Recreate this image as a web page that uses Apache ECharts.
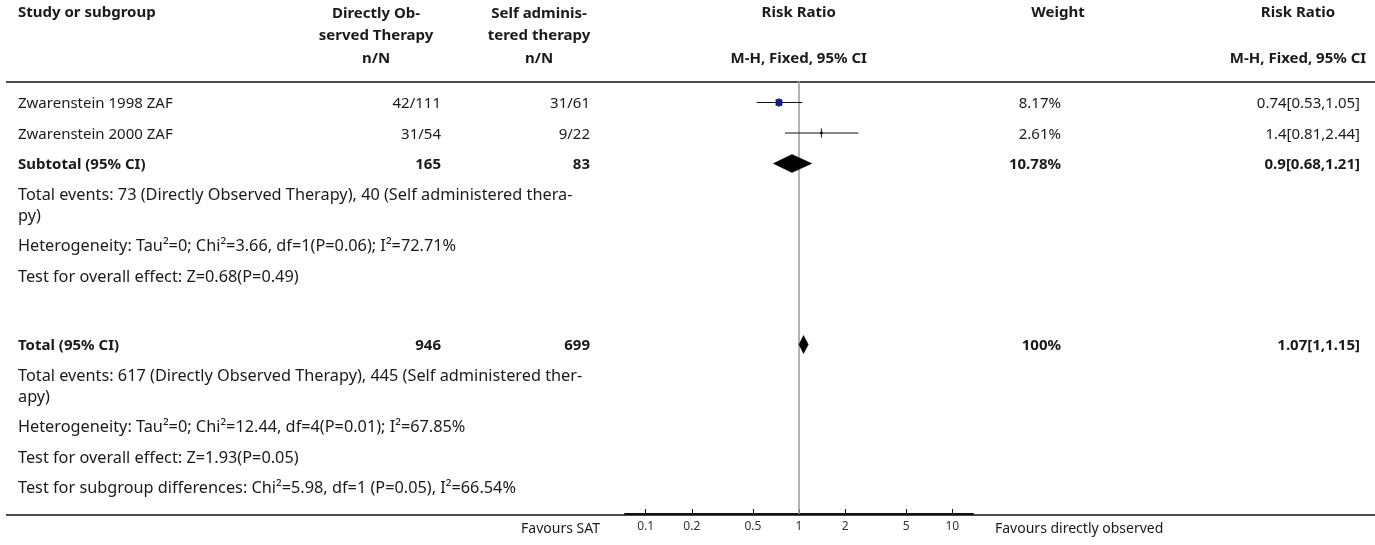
<!DOCTYPE html>
<html><head><meta charset="utf-8">
<script src="https://cdn.jsdelivr.net/npm/echarts@6/dist/echarts.min.js"></script>
<style>html,body{margin:0;padding:0;background:#fff}#c{width:1375px;height:545px}</style>
</head><body><div id="c"></div>
<script>
// ---- data ----
const studyNames = ['Zwarenstein 1998 ZAF', 'Zwarenstein 2000 ZAF'];
const dotEvents = ['42/111', '31/54'];
const satEvents = ['31/61', '9/22'];
const studyRR = [0.74, 1.4];
const studyLo = [0.53, 0.81];
const studyHi = [1.05, 2.44];
const studyWeight = [8.17, 2.61];
const subtotalRow = { label: 'Subtotal (95% CI)', n1: 165, n2: 83, rr: 0.9, lo: 0.68, hi: 1.21, w: 10.78 };
const totalRow = { label: 'Total (95% CI)', n1: 946, n2: 699, rr: 1.07, lo: 1, hi: 1.15, w: 100 };
const subtotalNotes = [
  'Total events: 73 (Directly Observed Therapy), 40 (Self administered thera-\npy)',
  'Heterogeneity: Tau\u00b2=0; Chi\u00b2=3.66, df=1(P=0.06); I\u00b2=72.71%',
  'Test for overall effect: Z=0.68(P=0.49)'
];
const totalNotes = [
  'Total events: 617 (Directly Observed Therapy), 445 (Self administered ther-\napy)',
  'Heterogeneity: Tau\u00b2=0; Chi\u00b2=12.44, df=4(P=0.01); I\u00b2=67.85%',
  'Test for overall effect: Z=1.93(P=0.05)',
  'Test for subgroup differences: Chi\u00b2=5.98, df=1 (P=0.05), I\u00b2=66.54%'
];
const axisTicks = [0.1, 0.2, 0.5, 1, 2, 5, 10];
const headers = {
  study: 'Study or subgroup',
  g1: 'Directly Ob-\nserved Therapy', g2: 'Self adminis-\ntered therapy',
  plot: 'Risk Ratio', weight: 'Weight', rr: 'Risk Ratio',
  sub1: 'n/N', sub2: 'n/N', subPlot: 'M-H, Fixed, 95% CI', subRR: 'M-H, Fixed, 95% CI'
};
const favours = ['Favours SAT', 'Favours directly observed'];

// ---- layout ----
const FONT = '"Noto Sans", sans-serif';
const FS = 15;        // body text
const FS_NOTE = 16.3; // footnote text
const FS_H = 15;      // header text
const COL = { study: 18, g1R: 441, g1C: 376, g2R: 590, g2C: 539, plotC: 798.7, wR: 1061, wC: 1058, rrR: 1360, rrC: 1298 };
const ROW_H = 30.5, LINE_H = 20.5, BLOCK_GAP = 38.5;
const GRID_TOP = 81, GRID_BOTTOM_Y = 514;
const L10 = v => Math.log10(v);
const fmtCI = (r, l, h) => r + '[' + l + ',' + h + ']';

// build rows
const rows = [];
studyNames.forEach((n, i) => rows.push({ kind: 'study', i, texts: [
  { t: n, x: COL.study, a: 'left' }, { t: dotEvents[i], x: COL.g1R, a: 'right' }, { t: satEvents[i], x: COL.g2R, a: 'right' },
  { t: studyWeight[i] + '%', x: COL.wR, a: 'right' }, { t: fmtCI(studyRR[i], studyLo[i], studyHi[i]), x: COL.rrR, a: 'right' }] }));
function pooledRow(p, kind) {
  return { kind, p, bold: true, texts: [
    { t: p.label, x: COL.study, a: 'left' }, { t: String(p.n1), x: COL.g1R, a: 'right' }, { t: String(p.n2), x: COL.g2R, a: 'right' },
    { t: p.w + '%', x: COL.wR, a: 'right' }, { t: fmtCI(p.rr, p.lo, p.hi), x: COL.rrR, a: 'right' }] };
}
rows.push(pooledRow(subtotalRow, 'pooled'));
subtotalNotes.forEach(s => rows.push({ kind: 'note', size: FS_NOTE, texts: [{ t: s, x: COL.study, a: 'left' }] }));
rows.push(Object.assign(pooledRow(totalRow, 'pooled'), { gapBefore: BLOCK_GAP }));
totalNotes.forEach(s => rows.push({ kind: 'note', size: FS_NOTE, texts: [{ t: s, x: COL.study, a: 'left' }] }));
let yCur = 23, prevLines = 1;
rows.forEach((r, k) => {
  if (k > 0) yCur += ROW_H + LINE_H * (prevLines - 1) + (r.gapBefore || 0);
  r.y = yCur;
  prevLines = Math.max(...r.texts.map(t => t.t.split('\n').length));
});

const chart = echarts.init(document.getElementById('c'));
const studyData = studyNames.map((n, i) => [L10(studyRR[i]), L10(studyLo[i]), L10(studyHi[i]), rows[i].y - 1.5, studyWeight[i]]);
const pooledData = rows.filter(r => r.kind === 'pooled').map(r => [L10(r.p.rr), L10(r.p.lo), L10(r.p.hi), r.y - 1.5]);

function textEl(t, x, y, align, bold, size, color) {
  return { type: 'text', style: { text: t, x, y, align, verticalAlign: 'middle', font: (bold ? 'bold ' : '') + (size || FS) + 'px ' + FONT, fill: color || '#1a1a1a', lineHeight: LINE_H } };
}

const option = {
  animation: false,
  grid: { left: 625, right: 1375 - 973, top: GRID_TOP, bottom: 545 - GRID_BOTTOM_Y, containLabel: false },
  xAxis: {
    type: 'value', min: L10(0.0733), max: L10(13.64),
    axisLine: { show: true, onZero: false, lineStyle: { color: '#111', width: 2 } },
    axisTick: { show: true, inside: true, length: 5, customValues: axisTicks.map(L10), lineStyle: { color: '#111', width: 1 } },
    axisLabel: { customValues: axisTicks.map(L10), color: '#333', fontSize: 12, fontFamily: FONT, margin: 7,
      formatter: v => String(Number(Math.pow(10, v).toPrecision(2))) },
    splitLine: { show: false }
  },
  yAxis: { type: 'value', inverse: true, min: 0, max: GRID_BOTTOM_Y - GRID_TOP, show: false },
  series: [
    { // reference line at RR = 1
      type: 'custom', silent: true, clip: false, data: [[0]], z: 1,
      renderItem: (params, api) => {
        const p0 = api.coord([0, 0]), p1 = api.coord([0, GRID_BOTTOM_Y - GRID_TOP]);
        return { type: 'line', shape: { x1: p0[0], y1: p0[1], x2: p1[0], y2: p1[1] }, style: { stroke: '#9a9a9a', lineWidth: 1.5 } };
      }
    },
    { // study CIs and squares
      type: 'custom', silent: true, clip: false, data: studyData, z: 3,
      renderItem: (params, api) => {
        const y = api.value(3);
        const c = api.coord([api.value(0), y]), l = api.coord([api.value(1), y]), h = api.coord([api.value(2), y]);
        const s = Math.max(1.5, api.value(4) * 0.74);
        return { type: 'group', children: [
          { type: 'line', shape: { x1: l[0], y1: c[1], x2: h[0], y2: c[1] }, style: { stroke: '#111', lineWidth: 1.2 } },
          { type: 'rect', shape: { x: c[0] - s / 2, y: c[1] - s / 2, width: s, height: s }, style: { fill: '#1a1ab8', stroke: '#000033', lineWidth: 0.6 } },
          { type: 'line', shape: { x1: c[0], y1: c[1] - 4.5, x2: c[0], y2: c[1] + 4.5 }, style: { stroke: '#111133', lineWidth: 1 } }
        ] };
      }
    },
    { // pooled diamonds
      type: 'custom', silent: true, clip: false, data: pooledData, z: 3,
      renderItem: (params, api) => {
        const y = api.value(3);
        const c = api.coord([api.value(0), y]), l = api.coord([api.value(1), y]), h = api.coord([api.value(2), y]);
        return { type: 'polygon', shape: { points: [[l[0], c[1]], [c[0], c[1] - 9], [h[0], c[1]], [c[0], c[1] + 9]] }, style: { fill: '#000', stroke: '#000', lineWidth: 0.5 } };
      }
    },
    { // table texts
      type: 'custom', silent: true, clip: false, data: rows.map((r, k) => [0, r.y]), z: 4,
      renderItem: (params, api) => {
        const r = rows[params.dataIndex];
        const y = api.coord([0, api.value(1)])[1];
        const children = [];
        r.texts.forEach(t => {
          t.t.split('\n').forEach((line, li) => children.push(textEl(line, t.x, y + li * LINE_H, t.a, r.bold, r.size)));
        });
        return { type: 'group', children };
      }
    }
  ],
  graphic: [
    { type: 'line', shape: { x1: 6, y1: 82, x2: 1375, y2: 82 }, style: { stroke: '#111', lineWidth: 1.5 } },
    { type: 'line', shape: { x1: 6, y1: 515, x2: 1375, y2: 515 }, style: { stroke: '#111', lineWidth: 1.5 } },
    textEl(headers.study, COL.study, 13, 'left', true, FS_H),
    textEl(headers.g1.split('\n')[0], COL.g1C, 14, 'center', true, FS_H),
    textEl(headers.g1.split('\n')[1], COL.g1C, 36, 'center', true, FS_H),
    textEl(headers.g2.split('\n')[0], COL.g2C, 14, 'center', true, FS_H),
    textEl(headers.g2.split('\n')[1], COL.g2C, 36, 'center', true, FS_H),
    textEl(headers.plot, COL.plotC, 13, 'center', true, FS_H),
    textEl(headers.weight, COL.wC, 13, 'center', true, FS_H),
    textEl(headers.rr, COL.rrC, 13, 'center', true, FS_H),
    textEl(headers.sub1, COL.g1C, 59, 'center', true, FS_H),
    textEl(headers.sub2, COL.g2C, 59, 'center', true, FS_H),
    textEl(headers.subPlot, COL.plotC, 59, 'center', true, FS_H),
    textEl(headers.subRR, COL.rrC, 59, 'center', true, FS_H),
    textEl(favours[0], 600, 529, 'right', false, 14),
    textEl(favours[1], 995, 529, 'left', false, 14)
  ]
};
chart.setOption(option);
</script></body></html>
